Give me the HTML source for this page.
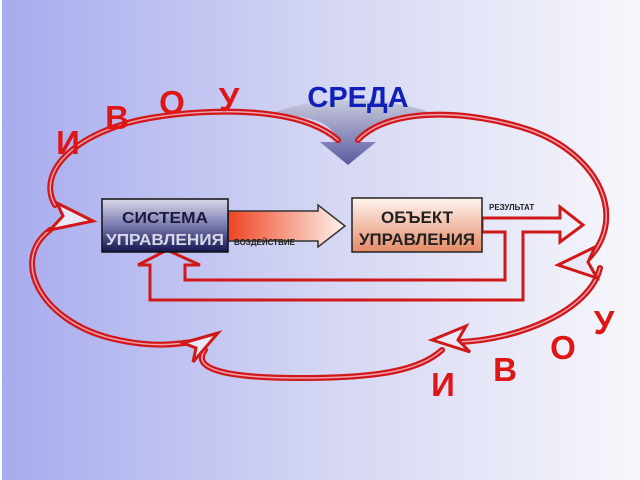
<!DOCTYPE html>
<html><head><meta charset="utf-8"><style>
html,body{margin:0;padding:0;width:640px;height:480px;overflow:hidden}
svg{display:block}
text{font-family:"Liberation Sans",sans-serif;font-weight:bold}
</style></head><body>
<svg width="640" height="480" viewBox="0 0 640 480" xmlns="http://www.w3.org/2000/svg">
<defs>
<linearGradient id="bg" x1="0" y1="0" x2="1" y2="0">
<stop offset="0" stop-color="#a7abee"/><stop offset="0.5" stop-color="#d3d5f3"/><stop offset="1" stop-color="#f7f7fb"/></linearGradient>
<linearGradient id="b1" x1="0" y1="0" x2="0" y2="1">
<stop offset="0" stop-color="#d8d8ea"/><stop offset="0.5" stop-color="#7a7ab0"/><stop offset="1" stop-color="#141450"/></linearGradient>
<linearGradient id="b2" x1="0" y1="0" x2="0" y2="1">
<stop offset="0" stop-color="#fff5ef"/><stop offset="1" stop-color="#e58a66"/></linearGradient>
<linearGradient id="ar" x1="0" y1="0" x2="1" y2="0">
<stop offset="0" stop-color="#ee4422"/><stop offset="1" stop-color="#fff4ee"/></linearGradient>
<linearGradient id="sr" x1="0" y1="0" x2="0" y2="1">
<stop offset="0" stop-color="#c8cadc"/><stop offset="1" stop-color="#5a5aa0"/></linearGradient>
</defs>
<rect width="640" height="480" fill="url(#bg)"/>
<rect x="0" y="0" width="2" height="480" fill="#fff"/>
<path d="M265,116 Q330,112 338,142 L320,142 L348,165 L376,142 L358,142 Q368,112 440,116 Q400,100 352,100 Q300,100 265,116Z" fill="url(#sr)"/>
<g fill="none" stroke-linecap="round">
<path d="M55,205 C35,170 80,130 150,118 C210,108 300,106 338,140 M358,140 C390,106 470,110 530,130 C600,155 630,220 585,262 M50,230 C10,260 40,320 110,338 C150,348 175,345 205,340 M205,350 C190,370 230,378 300,378 C380,378 420,370 442,350 M458,342 C520,340 590,310 600,268" stroke="#d01818" stroke-width="6"/>
<path d="M55,205 C35,170 80,130 150,118 C210,108 300,106 338,140 M358,140 C390,106 470,110 530,130 C600,155 630,220 585,262 M50,230 C10,260 40,320 110,338 C150,348 175,345 205,340 M205,350 C190,370 230,378 300,378 C380,378 420,370 442,350 M458,342 C520,340 590,310 600,268" stroke="#f0a0b0" stroke-width="1.5"/>
</g>
<g fill="#e8e8f6" stroke="#d01818" stroke-width="3" stroke-linejoin="miter">
<polygon points="93,221 57,203 63,216 50,230"/>
<polygon points="558,265 595,247 588,262 597,278"/>
<polygon points="218,333 183,343 196,348 193,362"/>
<polygon points="432,340 466,326 458,340 470,352"/>
</g>
<polygon points="482,218 560,218 560,207 583,225 560,242 560,232 523,232 523,300 150,300 150,265 138,265 167,250 200,265 185,265 185,280 505,280 505,232 482,232" fill="none" stroke="#d01818" stroke-width="3"/>
<polygon points="228,211 318,211 318,205 345,226 318,247 318,241 228,241" fill="url(#ar)" stroke="#333" stroke-width="1.5"/>
<rect x="102" y="199" width="126" height="53" fill="url(#b1)" stroke="#111" stroke-width="1.5"/>
<text x="165" y="223" font-size="16" fill="#1a1a40" text-anchor="middle" textLength="86" lengthAdjust="spacingAndGlyphs">СИСТЕМА</text>
<text x="165" y="245" font-size="16" fill="#d8d8e8" text-anchor="middle" textLength="118" lengthAdjust="spacingAndGlyphs">УПРАВЛЕНИЯ</text>
<rect x="352" y="198" width="130" height="54" fill="url(#b2)" stroke="#222" stroke-width="1.5"/>
<text x="417" y="223" font-size="17" fill="#222" text-anchor="middle" textLength="72" lengthAdjust="spacingAndGlyphs">ОБЪЕКТ</text>
<text x="417" y="245" font-size="17" fill="#222" text-anchor="middle" textLength="116" lengthAdjust="spacingAndGlyphs">УПРАВЛЕНИЯ</text>
<text x="234" y="245" font-size="8" fill="#222">ВОЗДЕЙСТВИЕ</text>
<text x="489" y="210" font-size="8" fill="#222">РЕЗУЛЬТАТ</text>
<text x="358" y="107" font-size="29" fill="#1020b8" text-anchor="middle">СРЕДА</text>
<g font-size="33" fill="#e01515" text-anchor="middle">
<text x="68" y="154">И</text><text x="117" y="129">В</text><text x="172" y="114">О</text><text x="229" y="111">У</text>
<text x="443" y="396">И</text><text x="505" y="381">В</text><text x="563" y="359">О</text><text x="604" y="334">У</text>
</g>
</svg>
</body></html>
